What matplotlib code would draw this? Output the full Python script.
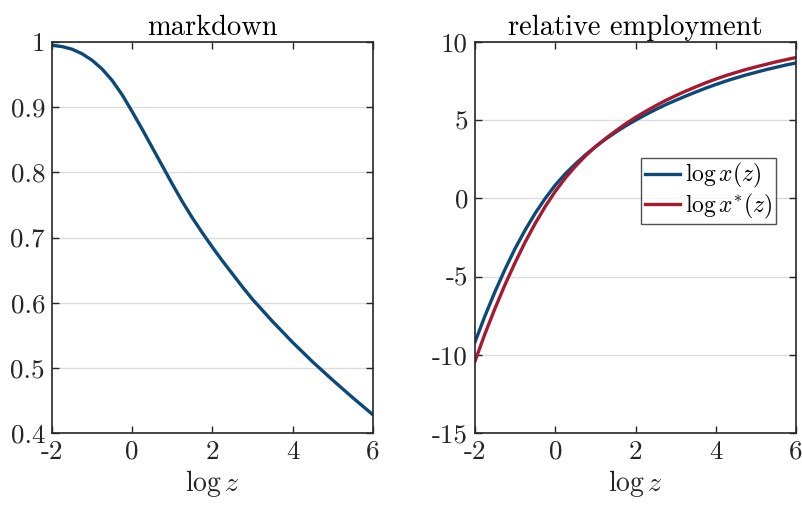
import matplotlib
matplotlib.use("Agg")
import matplotlib.pyplot as plt
import matplotlib.ticker as mticker

# ---- data ----
log_z = [-2.0, -1.75, -1.5, -1.25, -1.0, -0.75, -0.5, -0.25, 0.0, 0.25, 0.5, 0.75,
         1.0, 1.25, 1.5, 1.75, 2.0, 2.25, 2.5, 2.75, 3.0, 3.25, 3.5, 3.75,
         4.0, 4.25, 4.5, 4.75, 5.0, 5.25, 5.5, 5.75, 6.0]
markdown = [0.995, 0.993, 0.989, 0.982, 0.972, 0.9585, 0.941, 0.919, 0.893, 0.866, 0.838, 0.810,
            0.782, 0.755, 0.730, 0.707, 0.685, 0.664, 0.644, 0.624, 0.605, 0.588, 0.571, 0.555,
            0.539, 0.524, 0.509, 0.495, 0.481, 0.4675, 0.454, 0.441, 0.428]
log_x = [-9.18, -7.50, -5.95, -4.52, -3.20, -2.02, -0.95, 0.00, 0.85, 1.57, 2.20, 2.78,
         3.30, 3.78, 4.22, 4.63, 5.00, 5.35, 5.68, 5.99, 6.27, 6.54, 6.80, 7.05,
         7.28, 7.50, 7.70, 7.89, 8.06, 8.23, 8.38, 8.53, 8.66]
log_x_star = [-10.40, -8.64, -7.02, -5.50, -4.10, -2.79, -1.60, -0.52, 0.45, 1.30, 2.05, 2.71,
              3.30, 3.82, 4.30, 4.76, 5.18, 5.56, 5.92, 6.26, 6.57, 6.86, 7.13, 7.39,
              7.63, 7.85, 8.05, 8.24, 8.41, 8.57, 8.73, 8.87, 9.01]

xticks = [-2, 0, 2, 4, 6]
yticks_left = [0.4, 0.5, 0.6, 0.7, 0.8, 0.9, 1.0]
yticks_right = [-15, -10, -5, 0, 5, 10]

titles = ["markdown", "relative employment"]
xlabel = r"$\log z$"
legend_labels = [r"$\log x(z)$", r"$\log x^{*}(z)$"]

BLUE = "#0b4a78"
RED = "#a6192e"

plt.rcParams["font.family"] = "serif"
plt.rcParams["font.serif"] = ["cmr10", "DejaVu Serif"]
plt.rcParams["mathtext.fontset"] = "cm"
plt.rcParams["axes.unicode_minus"] = False
plt.rcParams["axes.formatter.use_mathtext"] = False

fig = plt.figure(figsize=(8.02, 5.05), dpi=100)
ax1 = fig.add_axes([0.0648, 0.1426, 0.4002, 0.7742])
ax2 = fig.add_axes([0.5923, 0.1426, 0.4002, 0.7742])

def style(ax, yticks, ylim):
    ax.set_xlim(-2, 6)
    ax.set_ylim(*ylim)
    ax.set_xticks(xticks)
    ax.set_yticks(yticks)
    ax.xaxis.set_major_formatter(mticker.FormatStrFormatter("%g"))
    ax.yaxis.set_major_formatter(mticker.FormatStrFormatter("%g"))
    ax.tick_params(direction="in", length=5, width=1.0, color="#262626",
                   top=True, right=True, labelsize=19.5, labelcolor="#262626", pad=5)
    for s in ax.spines.values():
        s.set_color("#262626")
        s.set_linewidth(1.2)
    ax.yaxis.grid(True, color="#dcdcdc", linewidth=1.0)
    ax.set_axisbelow(True)
    ax.set_xlabel(xlabel, fontsize=20, color="#262626", labelpad=3)

ax1.plot(log_z, markdown, color=BLUE, linewidth=2.4)
style(ax1, yticks_left, (0.4, 1.0))
ax1.set_title(titles[0], fontsize=20.5, color="black", pad=5)

ax2.plot(log_z, log_x, color=BLUE, linewidth=2.4, label=legend_labels[0])
ax2.plot(log_z, log_x_star, color=RED, linewidth=2.4, label=legend_labels[1])
style(ax2, yticks_right, (-15, 10))
ax2.set_title(titles[1], fontsize=20.5, color="black", pad=5)

leg = ax2.legend(loc="upper right", bbox_to_anchor=(0.937, 0.704), fontsize=17,
                 frameon=True, fancybox=False, handlelength=1.5, handletextpad=0.2,
                 borderpad=0.15, labelspacing=0.05, borderaxespad=0.0)
leg.get_frame().set_edgecolor("#262626")
leg.get_frame().set_linewidth(1.0)

fig.savefig("out.png", dpi=100)
